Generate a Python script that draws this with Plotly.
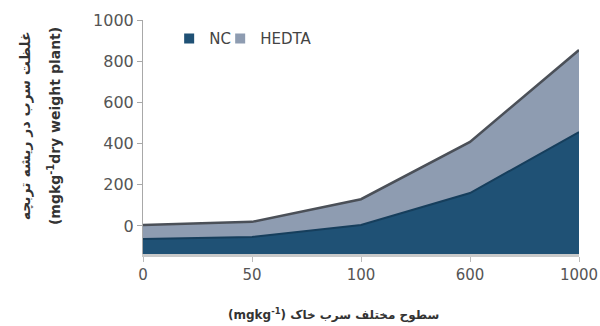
import plotly.graph_objects as go

# ---- data ----
levels = ["0", "50", "100", "600", "1000"]
nc_values = [-63, -53, 5, 160, 456]          # NC (top of dark area)
hedta_values = [68, 73, 125, 248, 398]        # HEDTA stacked on NC
y_ticks = [0, 200, 400, 600, 800, 1000]

Y_MIN, Y_MAX = -136, 1000
hedta_total = [a + b for a, b in zip(nc_values, hedta_values)]

NC_COLOR = "#1f5175"
HEDTA_COLOR = "#8e9cb1"
FONT = "DejaVu Sans"

fig = go.Figure()
# baseline at the bottom of the value axis so NC fills down to the axis
fig.add_trace(go.Scatter(x=levels, y=[Y_MIN] * len(levels), mode="lines",
                         line=dict(width=0, color=NC_COLOR), showlegend=False,
                         hoverinfo="skip"))
fig.add_trace(go.Scatter(x=levels, y=nc_values, mode="lines", fill="tonexty",
                         fillcolor=NC_COLOR, line=dict(color="#163e5c", width=2),
                         name="NC", showlegend=False))
fig.add_trace(go.Scatter(x=levels, y=hedta_total, mode="lines", fill="tonexty",
                         fillcolor=HEDTA_COLOR, line=dict(color="#4b5058", width=2.5),
                         name="HEDTA", showlegend=False))
# legend swatches
fig.add_trace(go.Scatter(x=[None], y=[None], mode="markers", name="NC", legend="legend",
                         marker=dict(symbol="square", size=10, color=NC_COLOR)))
fig.add_trace(go.Scatter(x=[None], y=[None], mode="markers", name="HEDTA", legend="legend2",
                         marker=dict(symbol="square", size=10, color=HEDTA_COLOR)))

legend_common = dict(orientation="h", y=0.99, xanchor="left", yanchor="top",
                     font=dict(family=FONT, size=15, color="#444444"),
                     bgcolor="rgba(0,0,0,0)", itemwidth=30)

fig.update_layout(
    width=600, height=326,
    margin=dict(l=143, r=21, t=20, b=72, autoexpand=False),
    paper_bgcolor="white", plot_bgcolor="white",
    font=dict(family=FONT, color="#555555"),
    showlegend=True,
    legend=dict(x=0.06, **legend_common),
    legend2=dict(x=0.177, **legend_common),
    xaxis=dict(type="category", range=[0, len(levels) - 1], automargin=False,
               showgrid=False, zeroline=False,
               showline=True, linecolor="#c9c9c9", linewidth=2.5,
               ticks="outside", ticklen=5, tickcolor="#bbbbbb",
               tickfont=dict(family=FONT, size=15, color="#555555")),
    yaxis=dict(range=[Y_MIN, Y_MAX], tickvals=y_ticks, automargin=False,
               showgrid=False, zeroline=False,
               showline=True, linecolor="#a8a8a8", linewidth=1,
               ticks="outside", ticklen=5, tickcolor="#a8a8a8",
               tickfont=dict(family=FONT, size=16, color="#555555")),
    annotations=[
        dict(text="<b>غلظت سرب در ریشه تربچه</b>", xref="paper", yref="paper",
             x=-0.27, y=0.547, textangle=-90, showarrow=False,
             xanchor="center", yanchor="middle",
             font=dict(family=FONT, size=14, color="#333333")),
        dict(text="<b>(mgkg<sup>-1</sup>dry weight plant)</b>", xref="paper", yref="paper",
             x=-0.204, y=0.547, textangle=-90, showarrow=False,
             xanchor="center", yanchor="middle",
             font=dict(family=FONT, size=14, color="#333333")),
        dict(text="<b>(mgkg<sup>-1</sup>) سطوح مختلف سرب خاک</b>", xref="paper", yref="paper",
             x=0.436, y=-0.26, showarrow=False,
             xanchor="center", yanchor="middle",
             font=dict(family=FONT, size=12, color="#333333")),
    ],
)

fig.write_html("out.html", config={"displayModeBar": False},
               post_script="document.body.style.margin='0';")
